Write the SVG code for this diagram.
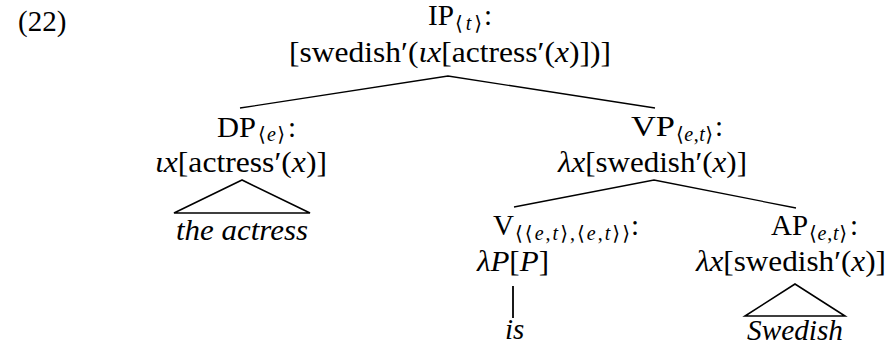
<svg xmlns="http://www.w3.org/2000/svg" width="889" height="350" viewBox="0 0 889 350">
<style>
text{font-family:"Liberation Serif","DejaVu Serif",serif;fill:#000;font-size:29px}
.sub{font-size:20px}
.ab{font-family:"DejaVu Sans",sans-serif;font-style:normal}
.it{font-style:italic;font-family:"Liberation Serif","DejaVu Serif",serif}
.e{stroke:#000;stroke-width:1.3;fill:none}
.tri{stroke:#000;stroke-width:1.6;fill:none}
</style>
<rect width="889" height="350" fill="#fff"/>
<text x="18" y="31">(22)</text>
<g id="connectors">
<polyline class="e" points="240,108 448,76 655,108"/>
<polyline class="e" points="514,207 654,180 796,208"/>
<line x1="513" y1="286" x2="513" y2="318" stroke="#000" stroke-width="1.8"/>
<path class="tri" d="M242,180 L174,213 L310,213 Z"/>
<path class="tri" d="M795,284 L745,316 L845,316 Z"/>
</g>
<g id="IP">
<text x="428" y="25" textLength="26" lengthAdjust="spacingAndGlyphs">IP</text>
<text class="sub" x="455" y="30" textLength="27" lengthAdjust="spacing"><tspan class="ab">⟨</tspan><tspan class="it">t</tspan><tspan class="ab">⟩</tspan></text>
<text x="484" y="25">:</text>
<text x="289" y="62" textLength="322" lengthAdjust="spacingAndGlyphs">[swedish′(<tspan class="it">ιx</tspan>[actress′(<tspan class="it">x</tspan>)])]</text>
</g>
<g id="DP">
<text x="217" y="137" textLength="39" lengthAdjust="spacingAndGlyphs">DP</text>
<text class="sub" x="258" y="141" textLength="27" lengthAdjust="spacing"><tspan class="ab">⟨</tspan><tspan class="it">e</tspan><tspan class="ab">⟩</tspan></text>
<text x="288" y="137">:</text>
<text x="155" y="172" textLength="172" lengthAdjust="spacingAndGlyphs"><tspan class="it">ιx</tspan>[actress′(<tspan class="it">x</tspan>)]</text>
</g>
<g id="the-actress">
<text class="it" x="176" y="240" textLength="132" lengthAdjust="spacingAndGlyphs">the actress</text>
</g>
<g id="VP">
<text x="631" y="136" textLength="44" lengthAdjust="spacingAndGlyphs">VP</text>
<text class="sub" x="676" y="141" textLength="37" lengthAdjust="spacing"><tspan class="ab">⟨</tspan><tspan class="it">e</tspan>,<tspan class="it">t</tspan><tspan class="ab">⟩</tspan></text>
<text x="715" y="136">:</text>
<text x="558" y="172" textLength="189" lengthAdjust="spacingAndGlyphs"><tspan class="it">λx</tspan>[swedish′(<tspan class="it">x</tspan>)]</text>
</g>
<g id="V">
<text x="493" y="235" textLength="21" lengthAdjust="spacingAndGlyphs">V</text>
<text class="sub" x="515" y="240" textLength="115" lengthAdjust="spacing"><tspan class="ab">⟨⟨</tspan><tspan class="it">e</tspan>,<tspan class="it">t</tspan><tspan class="ab">⟩</tspan>,<tspan class="ab">⟨</tspan><tspan class="it">e</tspan>,<tspan class="it">t</tspan><tspan class="ab">⟩⟩</tspan></text>
<text x="631" y="235">:</text>
<text x="477" y="271" textLength="72" lengthAdjust="spacingAndGlyphs"><tspan class="it">λP</tspan>[<tspan class="it">P</tspan>]</text>
</g>
<g id="is">
<text class="it" x="505" y="339">is</text>
</g>
<g id="AP">
<text x="771" y="235" textLength="37" lengthAdjust="spacingAndGlyphs">AP</text>
<text class="sub" x="809" y="240" textLength="38" lengthAdjust="spacing"><tspan class="ab">⟨</tspan><tspan class="it">e</tspan>,<tspan class="it">t</tspan><tspan class="ab">⟩</tspan></text>
<text x="850" y="235">:</text>
<text x="696" y="271" textLength="190" lengthAdjust="spacingAndGlyphs"><tspan class="it">λx</tspan>[swedish′(<tspan class="it">x</tspan>)]</text>
</g>
<g id="Swedish">
<text class="it" x="747" y="340" textLength="96" lengthAdjust="spacingAndGlyphs">Swedish</text>
</g>
</svg>
